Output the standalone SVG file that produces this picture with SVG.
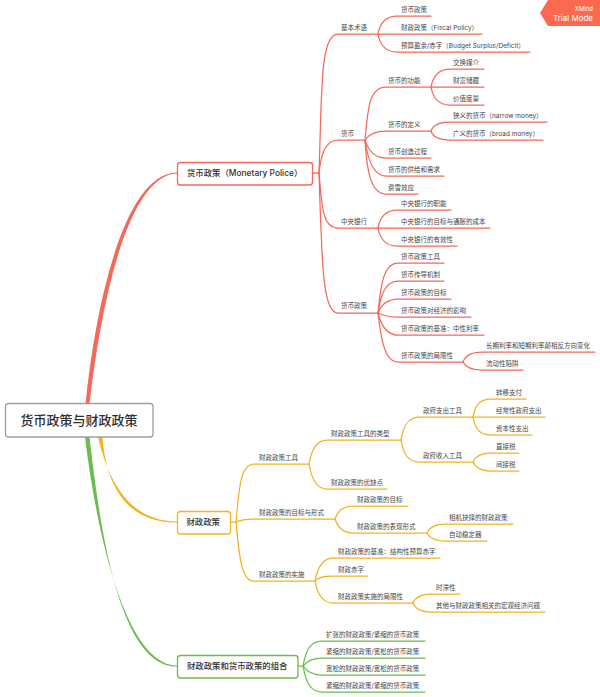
<svg xmlns="http://www.w3.org/2000/svg" width="600" height="697" viewBox="0 0 600 697">
  <style>
    text { font-family: "Inter", "Noto Sans CJK SC", sans-serif; fill: #454545; }
    .leaf { font-size: 6.5px; }
    .main { font-size: 8.4px; font-weight: 500; fill: #2f2f2f; }
    .root { font-size: 13px; font-weight: 500; font-family: "Noto Sans CJK SC", sans-serif; fill: #2f2f2f; }
    .badge1 { font-size: 6px; fill: #fff; text-anchor: end; }
    .badge2 { font-size: 8px; fill: #fff; text-anchor: end; }
    .frame { fill: #fff; stroke-width: 1.3; }
    .lines path { fill: none; stroke-width: 1.25; stroke-linecap: round; }
    .red path { stroke: #f4695a; }
    .orange path { stroke: #f5b120; }
    .green path { stroke: #6cbb4e; }
  </style>

  <g id="connectors">
    <!-- tapered main branches leaving the central topic -->
    <path fill="#f4695a" d="M85.500,404 C95,310 123,173 177,172.6 V173.4 C126,175 100,312 89.500,404 Z"/>
    <path fill="#f5b120" d="M98,437 C109,483 130,521 177,521.6 V522.4 C128,523 106,487 102.500,437 Z"/>
    <path fill="#6cbb4e" d="M85,437 C95,520 123,665 177,665.6 V666.4 C120,668 100,530 89.500,437 Z"/>

    <g class="lines red">
      <path d="M313,173 H319"/>
      <path d="M319,173 C322,90 320,34 338,34 H378"/>
      <path d="M378,34 c2,-11 8,-18 19,-18 H431"/>
      <path d="M378,34 H482"/>
      <path d="M378,34 c2,11 8,18 19,18 H530"/>
      <path d="M319,173 C321,155 325,140 338,140 H365"/>
      <path d="M365,140 C368,105 370,87 386,87 H431"/>
      <path d="M431,87 c2,-11 8,-18 19,-18 H484"/>
      <path d="M431,87 H484"/>
      <path d="M431,87 c2,11 8,18 19,18 H484"/>
      <path d="M365,140 C369,134 375,131 386,131 H431"/>
      <path d="M431,131 c2,-6 8,-9 19,-9 H547"/>
      <path d="M431,131 c2,6 8,9 19,9 H543"/>
      <path d="M365,140 C369,152 375,158 386,158 H431"/>
      <path d="M365,140 C368,162 374,176 386,176 H444"/>
      <path d="M365,140 C367,175 372,194 386,194 H418"/>
      <path d="M319,173 C322,205 322,228 338,228 H378"/>
      <path d="M378,228 c2,-11 8,-18 19,-18 H451"/>
      <path d="M378,228 H490"/>
      <path d="M378,228 c2,11 8,18 19,18 H457"/>
      <path d="M319,173 C322,260 322,313 338,313 H378"/>
      <path d="M378,313 C381,280 385,263 398,263 H444"/>
      <path d="M378,313 C381,293 386,281 398,281 H444"/>
      <path d="M378,313 C381,305 386,299 398,299 H451"/>
      <path d="M378,313 C382,315 388,317 398,317 H471"/>
      <path d="M378,313 C381,325 386,335 398,335 H484"/>
      <path d="M378,313 C381,340 385,362 398,362 H463"/>
      <path d="M463,362 c2,-6 8,-10 19,-10 H595"/>
      <path d="M463,362 c2,4 8,8 19,8 H523"/>
    </g>

    <g class="lines orange">
      <path d="M230,522 H236"/>
      <path d="M236,522 C239,490 240,464 254,464 H309"/>
      <path d="M309,464 c2,-12 6,-24 18,-24 H401"/>
      <path d="M401,440 c2,-12 6,-23 18,-23 H473"/>
      <path d="M473,417 c2,-11 6,-18 18,-18 H526"/>
      <path d="M473,417 H545"/>
      <path d="M473,417 c2,11 6,18 18,18 H532"/>
      <path d="M401,440 c2,12 6,22 18,22 H473"/>
      <path d="M473,462 c2,-5 6,-9 18,-9 H519"/>
      <path d="M473,462 c2,5 6,9 18,9 H519"/>
      <path d="M309,464 c2,12 6,25 18,25 H387"/>
      <path d="M236,522 C240,520 245,519 254,519 H335"/>
      <path d="M335,519 c2,-6 6,-13 18,-13 H408"/>
      <path d="M335,519 c2,6 6,14 18,14 H427"/>
      <path d="M427,533 c2,-5 6,-9 18,-9 H513"/>
      <path d="M427,533 c2,4 6,8 18,8 H487"/>
      <path d="M236,522 C239,550 240,581 254,581 H315"/>
      <path d="M315,581 c2,-11 6,-23 18,-23 H440"/>
      <path d="M315,581 c2,-3 6,-5 18,-5 H368"/>
      <path d="M315,581 c2,11 6,22 18,22 H413"/>
      <path d="M413,603 c2,-5 6,-9 18,-9 H460"/>
      <path d="M413,603 c2,5 6,9 18,9 H545"/>
    </g>

    <g class="lines green">
      <path d="M298,666 H303"/>
      <path d="M303,666 C306,650 310,641 322,641 H425"/>
      <path d="M303,666 C306,662 311,658 322,658 H425"/>
      <path d="M303,666 C306,670 311,675 322,675 H425"/>
      <path d="M303,666 C306,682 310,692 322,692 H425"/>
    </g>
  </g>

  <g id="root-topic">
    <rect class="frame" x="5.500" y="403.500" width="147.500" height="33.500" rx="3" stroke="#9a9fa8"/>
    <text class="root" x="79" y="425" text-anchor="middle">货币政策与财政政策</text>
  </g>

  <g id="monetary">
    <rect class="frame" x="177.500" y="162.500" width="135" height="22.500" rx="3" stroke="#f4695a"/>
    <text class="main" x="187" y="176">货币政策（Monetary Police）</text>
  </g>
  <g id="fiscal">
    <rect class="frame" x="177.500" y="511.500" width="53" height="22.500" rx="3" stroke="#f5b120"/>
    <text class="main" x="186.500" y="525">财政政策</text>
  </g>
  <g id="combination">
    <rect class="frame" x="177.500" y="655.500" width="120.500" height="22.500" rx="3" stroke="#6cbb4e"/>
    <text class="main" x="187" y="669">财政政策和货币政策的组合</text>
  </g>

  <g id="terms"><text class="leaf" x="341" y="30">基本术语</text></g>
  <g id="terms-1"><text class="leaf" x="401" y="12">货币政策</text></g>
  <g id="terms-2"><text class="leaf" x="401" y="30">财政政策（Fiscal Policy）</text></g>
  <g id="terms-3"><text class="leaf" x="401" y="48">预算盈余/赤字（Budget Surplus/Deficit）</text></g>

  <g id="money"><text class="leaf" x="341" y="136">货币</text></g>
  <g id="money-func"><text class="leaf" x="388" y="83">货币的功能</text></g>
  <g id="money-func-1"><text class="leaf" x="453" y="65">交换媒介</text></g>
  <g id="money-func-2"><text class="leaf" x="453" y="83">财富储藏</text></g>
  <g id="money-func-3"><text class="leaf" x="453" y="101">价值度量</text></g>
  <g id="money-def"><text class="leaf" x="388" y="127">货币的定义</text></g>
  <g id="money-def-1"><text class="leaf" x="453" y="118">狭义的货币（narrow money）</text></g>
  <g id="money-def-2"><text class="leaf" x="453" y="136">广义的货币（broad money）</text></g>
  <g id="money-create"><text class="leaf" x="388" y="154">货币创造过程</text></g>
  <g id="money-supply"><text class="leaf" x="388" y="172">货币的供给和需求</text></g>
  <g id="money-fisher"><text class="leaf" x="388" y="190">费雪效应</text></g>

  <g id="bank"><text class="leaf" x="341" y="224">中央银行</text></g>
  <g id="bank-1"><text class="leaf" x="401" y="206">中央银行的职能</text></g>
  <g id="bank-2"><text class="leaf" x="401" y="224">中央银行的目标与通胀的成本</text></g>
  <g id="bank-3"><text class="leaf" x="401" y="242">中央银行的有效性</text></g>

  <g id="policy"><text class="leaf" x="341" y="308">货币政策</text></g>
  <g id="policy-1"><text class="leaf" x="401" y="259">货币政策工具</text></g>
  <g id="policy-2"><text class="leaf" x="401" y="277">货币传导机制</text></g>
  <g id="policy-3"><text class="leaf" x="401" y="295">货币政策的目标</text></g>
  <g id="policy-4"><text class="leaf" x="401" y="313">货币政策对经济的影响</text></g>
  <g id="policy-5"><text class="leaf" x="401" y="331">货币政策的基准：中性利率</text></g>
  <g id="policy-6"><text class="leaf" x="401" y="358">货币政策的局限性</text></g>
  <g id="policy-6-1"><text class="leaf" x="486" y="348">长期利率和短期利率颠相反方向变化</text></g>
  <g id="policy-6-2"><text class="leaf" x="486" y="366">流动性陷阱</text></g>

  <g id="tools"><text class="leaf" x="259" y="460">财政政策工具</text></g>
  <g id="tools-types"><text class="leaf" x="331" y="436">财政政策工具的类型</text></g>
  <g id="spend"><text class="leaf" x="423" y="413">政府支出工具</text></g>
  <g id="spend-1"><text class="leaf" x="496" y="395">转移支付</text></g>
  <g id="spend-2"><text class="leaf" x="496" y="413">经常性政府支出</text></g>
  <g id="spend-3"><text class="leaf" x="496" y="431">资本性支出</text></g>
  <g id="revenue"><text class="leaf" x="423" y="458">政府收入工具</text></g>
  <g id="revenue-1"><text class="leaf" x="496" y="449">直接税</text></g>
  <g id="revenue-2"><text class="leaf" x="496" y="467">间接税</text></g>
  <g id="tools-merit"><text class="leaf" x="331" y="485">财政政策的优缺点</text></g>

  <g id="goals"><text class="leaf" x="259" y="515">财政政策的目标与形式</text></g>
  <g id="goals-1"><text class="leaf" x="357" y="502">财政政策的目标</text></g>
  <g id="goals-2"><text class="leaf" x="357" y="529">财政政策的表现形式</text></g>
  <g id="goals-2-1"><text class="leaf" x="449" y="520">相机抉择的财政政策</text></g>
  <g id="goals-2-2"><text class="leaf" x="449" y="537">自动稳定器</text></g>

  <g id="practice"><text class="leaf" x="259" y="577">财政政策的实施</text></g>
  <g id="practice-1"><text class="leaf" x="338" y="554">财政政策的基准：结构性预算赤字</text></g>
  <g id="practice-2"><text class="leaf" x="338" y="572">财政赤字</text></g>
  <g id="practice-3"><text class="leaf" x="338" y="599">财政政策实施的局限性</text></g>
  <g id="practice-3-1"><text class="leaf" x="436" y="590">时滞性</text></g>
  <g id="practice-3-2"><text class="leaf" x="436" y="608">其他与财政政策相关的宏观经济问题</text></g>

  <g id="mix-1"><text class="leaf" x="326" y="637">扩张的财政政策/紧缩的货币政策</text></g>
  <g id="mix-2"><text class="leaf" x="326" y="654">紧缩的财政政策/宽松的货币政策</text></g>
  <g id="mix-3"><text class="leaf" x="326" y="671">宽松的财政政策/宽松的货币政策</text></g>
  <g id="mix-4"><text class="leaf" x="326" y="688">紧缩的财政政策/紧缩的货币政策</text></g>

  <g id="trial-badge">
    <polygon points="548,0 600,0 600,26 548,26 540,13" fill="#fb6a50"/>
    <text class="badge1" x="593" y="11">XMind</text>
    <text class="badge2" x="593" y="20.500">Trial Mode</text>
  </g>
</svg>
